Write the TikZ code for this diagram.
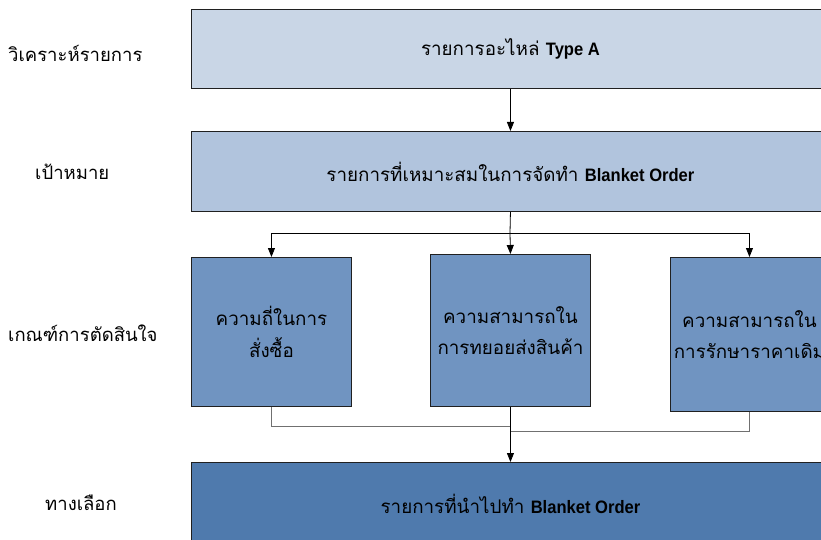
\documentclass[tikz,border=0pt]{standalone}
\usepackage{fontspec}
\usepackage{graphicx}
\usetikzlibrary{arrows.meta}
\newfontfamily\thaifont[Script=Thai]{Loma}
\newfontfamily\latfont{Liberation Sans}
\newcommand{\lat}[1]{\scalebox{0.92}[1]{\latfont\bfseries\fontsize{18}{20}\selectfont #1}}
\definecolor{cA}{HTML}{C9D6E6}
\definecolor{cB}{HTML}{B1C4DD}
\definecolor{cC}{HTML}{7094C1}
\definecolor{cD}{HTML}{4F7AAD}
\definecolor{edge}{HTML}{202020}
\definecolor{lgray}{HTML}{707070}
\tikzset{
  boxnode/.style={draw=edge, line width=0.9pt, anchor=north west, inner sep=0pt, align=center, font=\thaifont\fontsize{18.8}{31.5}\selectfont},
  lablnode/.style={font=\thaifont\fontsize{18.5}{22}\selectfont, anchor=west, inner sep=0pt},
  arr/.style={draw=black, line width=0.8pt, -{Triangle[length=9pt,width=7pt]}},
  ln/.style={draw=black, line width=0.8pt},
  gln/.style={draw=lgray, line width=0.8pt}
}
\begin{document}
\begin{tikzpicture}[x=1pt,y=-1pt]
\clip (0,0) rectangle (821,540);
\fill[white] (0,0) rectangle (821,540);
% main boxes
\node[boxnode, fill=cA, minimum width=638pt, minimum height=79pt] (a) at (191,9) {รายการอะไหล่ \lat{Type A}};
\node[boxnode, fill=cB, minimum width=638pt, minimum height=80pt] (b) at (191,131) {รายการที่เหมาะสมในการจัดทำ \lat{Blanket Order}};
\node[boxnode, fill=cC, minimum width=160pt, minimum height=149pt] (c1) at (191,257) {ความถี่ในการ\\สั่งซื้อ};
\node[boxnode, fill=cC, minimum width=160pt, minimum height=152pt] (c2) at (430,254) {ความสามารถใน\\การทยอยส่งสินค้า};
\node[boxnode, fill=cC, minimum width=158pt, minimum height=154pt] (c3) at (670,257) {ความสามารถใน\\การรักษาราคาเดิม};
\node[boxnode, fill=cD, minimum width=638pt, minimum height=82pt] (d) at (191,462) {รายการที่นำไปทำ \lat{Blanket Order}};
% left labels
\node[lablnode] (l1) at (8,53) {วิเคราะห์รายการ};
\node[lablnode] (l2) at (35,172) {เป้าหมาย};
\node[lablnode] (l3) at (8,333) {เกณฑ์การตัดสินใจ};
\node[lablnode] (l4) at (45,503) {ทางเลือก};
% connectors
\coordinate (split) at (510,233);
\coordinate (j1) at (510,426);
\coordinate (j2) at (510,431);
\draw[arr] (a.south) -- (b.north);
\draw[ln] (b.south) -- (split);
\draw[arr] (split) -| (c1.north);
\draw[arr] (split) -- (c2.north);
\draw[arr] (split) -| (c3.north);
\draw[gln] (c1.south) |- (j1);
\draw[gln] (c3.south) |- (j2);
\draw[arr] (c2.south) -- (d.north);
\end{tikzpicture}
\end{document}
